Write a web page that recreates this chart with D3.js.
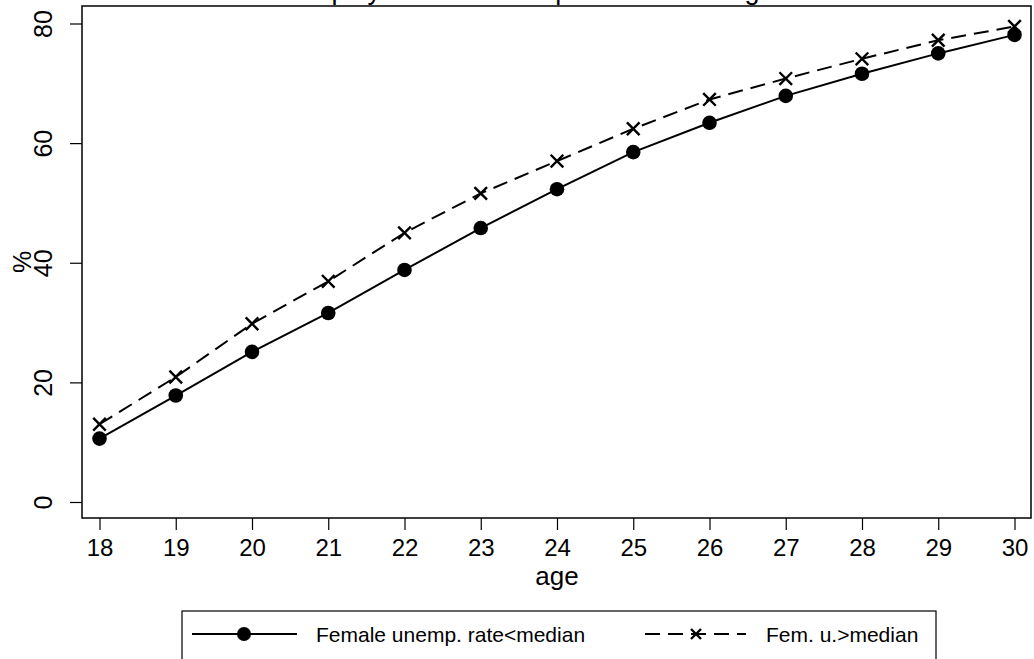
<!DOCTYPE html>
<html>
<head>
<meta charset="utf-8">
<script src="https://cdn.jsdelivr.net/npm/d3@7"></script>
<style>
  body { margin: 0; background: #fff; }
  svg { display: block; font-family: "Liberation Sans", Arial, sans-serif; }
</style>
</head>
<body>
<div id="chart"></div>
<script>
var ages = [18, 19, 20, 21, 22, 23, 24, 25, 26, 27, 28, 29, 30];
var belowMedian = [10.6, 17.8, 25.1, 31.6, 38.8, 45.8, 52.3, 58.5, 63.4, 67.9, 71.6, 75.0, 78.1];
var aboveMedian = [13.0, 20.9, 29.8, 36.9, 45.0, 51.6, 57.0, 62.4, 67.3, 70.8, 74.1, 77.2, 79.5];
var yTicks = [0, 20, 40, 60, 80];
var seriesNames = ["Female unemp. rate<median", "Fem. u.>median"];
var titleText = "Unemployment rate and parenthood at age";

var svg = d3.select("#chart").append("svg").attr("width", 1034).attr("height", 659);

var box = {left: 82, right: 1031, top: 6, bottom: 518};
var x = d3.scaleLinear().domain([18, 30]).range([99.5, 1014.5]);
var y = d3.scaleLinear().domain([0, 80]).range([502, 23.5]);

// title, only its lower edge is inside the picture
svg.append("text")
  .attr("x", 517).attr("y", -1.5)
  .attr("text-anchor", "middle")
  .attr("font-size", 27)
  .text(titleText);

// plot frame
svg.append("rect")
  .attr("x", box.left).attr("y", box.top)
  .attr("width", box.right - box.left).attr("height", box.bottom - box.top)
  .attr("fill", "none").attr("stroke", "#000").attr("stroke-width", 1.5);

// y axis
var yAxis = d3.axisLeft(y).tickValues(yTicks).tickSize(12).tickPadding(0);
var gy = svg.append("g").attr("transform", "translate(" + box.left + ",0)").call(yAxis);
gy.select(".domain").remove();
gy.selectAll(".tick line").attr("stroke", "#000").attr("stroke-width", 1.2);
gy.selectAll(".tick text").remove();
gy.selectAll(".tick").append("text")
  .attr("transform", "translate(" + (52 - box.left) + ",0) rotate(-90)")
  .attr("text-anchor", "middle")
  .attr("fill", "#000")
  .attr("font-size", 25)
  .text(function (d) { return d; });

// x axis
var xAxis = d3.axisBottom(x).tickValues(ages).tickSize(12).tickPadding(0);
var gx = svg.append("g").attr("transform", "translate(0," + box.bottom + ")").call(xAxis);
gx.select(".domain").remove();
gx.selectAll(".tick line").attr("stroke", "#000").attr("stroke-width", 1.2);
gx.selectAll(".tick text")
  .attr("y", 38).attr("dy", null)
  .attr("fill", "#000")
  .attr("font-size", 24)
  .attr("font-family", "Liberation Sans, Arial, sans-serif");

// axis titles
svg.append("text")
  .attr("transform", "translate(31,262) rotate(-90)")
  .attr("text-anchor", "middle")
  .attr("font-size", 25)
  .text("%");

svg.append("text")
  .attr("x", 557).attr("y", 585)
  .attr("text-anchor", "middle")
  .attr("font-size", 26)
  .text("age");

// lines
var line = d3.line().x(function (d) { return x(d[0]); }).y(function (d) { return y(d[1]); });
var solidData = ages.map(function (a, i) { return [a, belowMedian[i]]; });
var dashData = ages.map(function (a, i) { return [a, aboveMedian[i]]; });

svg.append("path").datum(solidData)
  .attr("d", line).attr("fill", "none").attr("stroke", "#000").attr("stroke-width", 2);
svg.append("path").datum(dashData)
  .attr("d", line).attr("fill", "none").attr("stroke", "#000").attr("stroke-width", 2)
  .attr("stroke-dasharray", "15,8");

function drawCross(g, cx, cy, s) {
  g.append("path")
    .attr("d", "M" + (cx - s) + "," + (cy - s) + "L" + (cx + s) + "," + (cy + s) +
               "M" + (cx - s) + "," + (cy + s) + "L" + (cx + s) + "," + (cy - s))
    .attr("stroke", "#000").attr("stroke-width", 2.4).attr("fill", "none");
}

svg.selectAll("circle.pt").data(solidData).enter().append("circle")
  .attr("class", "pt")
  .attr("cx", function (d) { return x(d[0]); })
  .attr("cy", function (d) { return y(d[1]); })
  .attr("r", 7.3).attr("fill", "#000");

dashData.forEach(function (d) { drawCross(svg, x(d[0]), y(d[1]), 6.3); });

// legend
var leg = svg.append("g");
leg.append("rect")
  .attr("x", 182).attr("y", 611).attr("width", 754).attr("height", 70)
  .attr("fill", "#fff").attr("stroke", "#000").attr("stroke-width", 1.2);

var ly = 634;
leg.append("line").attr("x1", 192).attr("x2", 297).attr("y1", ly).attr("y2", ly)
  .attr("stroke", "#000").attr("stroke-width", 2);
leg.append("circle").attr("cx", 244).attr("cy", ly).attr("r", 7).attr("fill", "#000");
leg.append("text").attr("x", 316).attr("y", ly + 7.5).attr("font-size", 21).text(seriesNames[0]);

leg.append("line").attr("x1", 645).attr("x2", 746).attr("y1", ly).attr("y2", ly)
  .attr("stroke", "#000").attr("stroke-width", 2).attr("stroke-dasharray", "15,8");
drawCross(leg, 696, ly, 5);
leg.append("text").attr("x", 766).attr("y", ly + 7.5).attr("font-size", 21).text(seriesNames[1]);
</script>
</body>
</html>
